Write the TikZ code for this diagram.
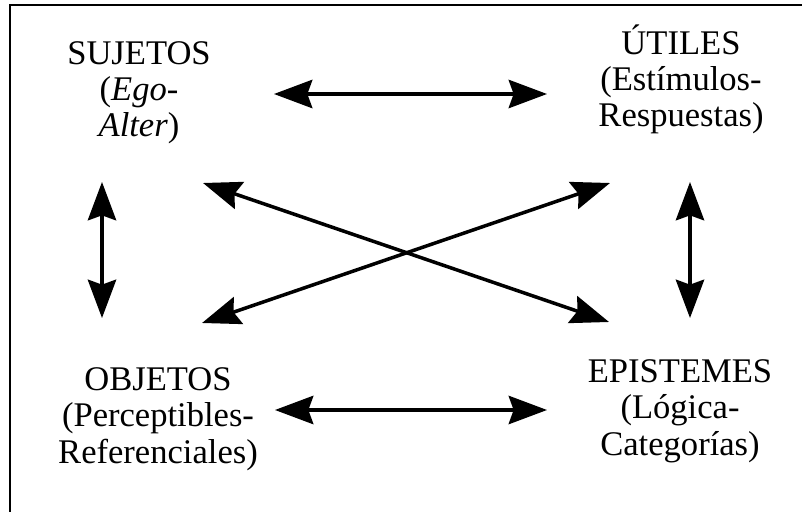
\documentclass[tikz,border=0pt]{standalone}
\usepackage{fontspec}
\setmainfont{Liberation Serif}
\usetikzlibrary{arrows.meta,positioning}

\begin{document}
\begin{tikzpicture}[
    x=0.03cm, y=-0.03cm,
    concept/.style={align=center, inner sep=0pt, anchor=base, font=\fontsize{29.5}{31}\selectfont},
    arrow/.style={{Stealth[length=1.15cm, width=0.85cm, inset=0.15cm]}-{Stealth[length=1.15cm, width=0.85cm, inset=0.15cm]}, line width=3pt},
    frame/.style={line width=2.4pt}
]
    \useasboundingbox (0,0) rectangle (802,512);

    % Frame (top and left edge only)
    \draw[frame] (802,5) -- (10,5) -- (10,512);

    % Concepts
    \node[concept] (suj) at (139,137) {SUJETOS\\(\textit{Ego-}\\\textit{Alter})};
    \node[concept] (uti) at (681,127) {ÚTILES\\(Estímulos-\\Respuestas)};
    \node[concept] (obj) at (158,463) {OBJETOS\\(Perceptibles-\\Referenciales)};
    \node[concept] (epi) at (680,455) {EPISTEMES\\(Lógica-\\Categorías)};

    % Arrow ends
    \coordinate (suj-r) at (274,94);
    \coordinate (uti-l) at (547,94);
    \coordinate (obj-r) at (275,410);
    \coordinate (epi-l) at (547,410);
    \coordinate (suj-b) at (102,182);
    \coordinate (obj-t) at (102,318);
    \coordinate (uti-b) at (690,182);
    \coordinate (epi-t) at (690,318);
    \coordinate (suj-d) at (203,183);
    \coordinate (epi-d) at (609,322);
    \coordinate (obj-d) at (202,323);
    \coordinate (uti-d) at (610,183);

    % Connections
    \draw[arrow] (suj-r) -- (uti-l);
    \draw[arrow] (obj-r) -- (epi-l);
    \draw[arrow] (suj-b) -- (obj-t);
    \draw[arrow] (uti-b) -- (epi-t);
    \draw[arrow] (suj-d) -- (epi-d);
    \draw[arrow] (obj-d) -- (uti-d);
\end{tikzpicture}
\end{document}
